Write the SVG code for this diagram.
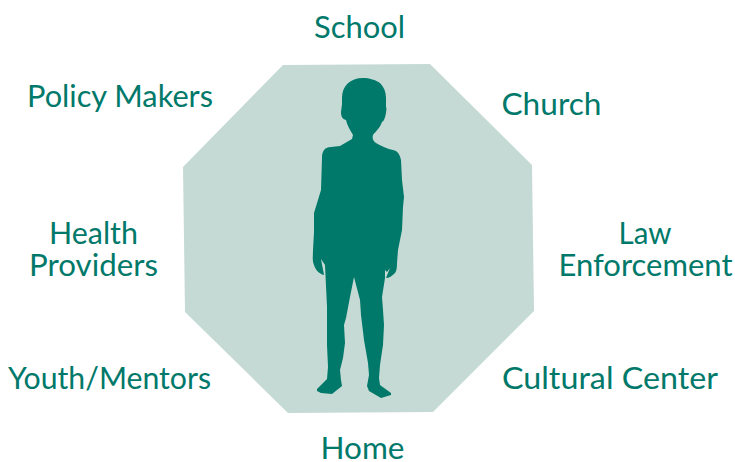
<svg xmlns="http://www.w3.org/2000/svg" width="735" height="462" viewBox="0 0 735 462">
<style>
text{font-family:"Lato","Liberation Sans",sans-serif;font-size:30px;fill:#00796a;text-anchor:middle}
</style>
<rect width="735" height="462" fill="#fff"/>
<polygon id="octagon" fill="#c6dad5" points="283,65 430,64 532,165 534,311 433,412 288,413 185,312 183,167"/>
<path id="child" fill="#00796a" d="M363,78 C369,78 376,80 380,83 C384,87 386,92 386,98 L386,107 C387,109 386,111 386,113 C385,118 384,121 382,122 C380,128 376,131 373,135 C372,138 373,141 376,143 C381,146 388,149 393,150 C398,151 400,155 401,160 L402,180 L404,197 L403,207 L402,230 L399,245 L398,250 L397,263 C397,269 396,272 395,273 C392,276 389,278 386,278 L390,268 L387,272 L385,270 L385,278 L382,297 L383,310 L384,325 L383,345 L380,365 L379,378 L380,385 L391,393 L391,395 L381,398 L369,391 L367,386 L369,375 L368,363 L364,340 L361,315 L360,300 L354,277 L350,297 L346,318 L344,325 L345,343 L343,358 L340,370 L341,380 L342,386 L332,394 L321,393 L317,391 L317,389 L327,379 L328,367 L327,345 L327,330 L327,307 L325,265 L321,259 L324,275 C319,274 315,269 314,265 C312,260 313,256 313,250 L314,232 L314,213 L321,190 L322,157 C322,151 325,147 331,147 L340,146 L352,139 L353,135 C350,130 347,125 346,120 C342,119 341,116 341,112 L342,104 L342,98 C342,86 350,78 363,78 Z"/>
<g id="school"><text x="359.500" y="38" textLength="91" lengthAdjust="spacingAndGlyphs">School</text></g>
<g id="church"><text x="551.500" y="115" textLength="100" lengthAdjust="spacingAndGlyphs">Church</text></g>
<g id="law"><text x="645" y="244" textLength="53" lengthAdjust="spacingAndGlyphs">Law</text><text x="645.500" y="276" textLength="174" lengthAdjust="spacingAndGlyphs">Enforcement</text></g>
<g id="cultural"><text x="610" y="389" textLength="216" lengthAdjust="spacingAndGlyphs">Cultural Center</text></g>
<g id="home"><text x="362.500" y="459" textLength="84" lengthAdjust="spacingAndGlyphs">Home</text></g>
<g id="youth"><text x="109.500" y="389" textLength="203" lengthAdjust="spacingAndGlyphs">Youth/Mentors</text></g>
<g id="health"><text x="93.500" y="244" textLength="89" lengthAdjust="spacingAndGlyphs">Health</text><text x="93.500" y="276" textLength="129" lengthAdjust="spacingAndGlyphs">Providers</text></g>
<g id="policy"><text x="120" y="107" textLength="186" lengthAdjust="spacingAndGlyphs">Policy Makers</text></g>
</svg>
